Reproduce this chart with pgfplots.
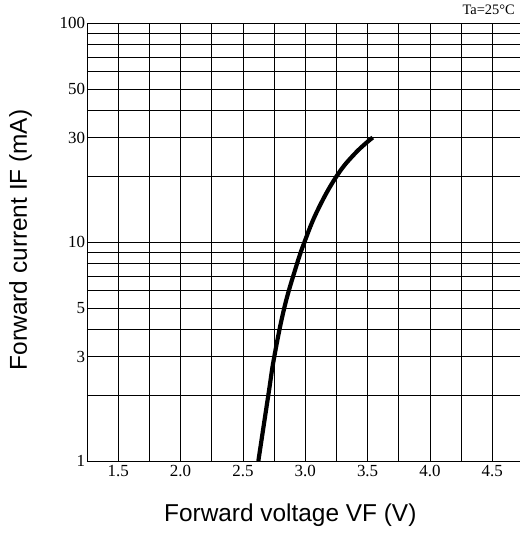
\documentclass[border=0pt]{standalone}
\usepackage{fontspec}
\setmainfont{Liberation Serif}
\newfontfamily\arial{Liberation Sans}
\usepackage{pgfplots}
\pgfplotsset{compat=1.18}
\begin{document}
\begin{tikzpicture}
\useasboundingbox (-87bp,-72bp) rectangle (433bp,461bp);
\begin{semilogyaxis}[
  at={(0,0)}, anchor=south west,
  scale only axis,
  width=433bp, height=438bp,
  xmin=1.25, xmax=4.722,
  ymin=1, ymax=100,
  axis x line*=bottom, axis y line*=left,
  axis line style={black, line width=0.7pt, -},
  xtick={1.5,2.0,2.5,3.0,3.5,4.0,4.5},
  xticklabels={1.5,2.0,2.5,3.0,3.5,4.0,4.5},
  minor xtick={1.75,2.25,2.75,3.25,3.75,4.25},
  ytick={1,3,5,10,30,50,100},
  yticklabels={1,3,5,10,30,50,100},
  minor ytick={2,4,6,7,8,9,20,40,60,70,80,90},
  grid=both,
  major grid style={black, line width=0.6pt},
  minor grid style={black, line width=0.6pt},
  major tick length=0pt, minor tick length=0pt,
  tick label style={font=\fontsize{17}{20}\selectfont},
  xticklabel style={yshift=-1.2bp},
  yticklabel style={xshift=1.5bp},
  xlabel={\arial\fontsize{24.5}{28}\selectfont Forward voltage VF (V)},
  ylabel={\arial\fontsize{24.5}{28}\selectfont Forward current IF (mA)},
  every axis x label/.style={at={(axis description cs:0.4695,-0.137)}, anchor=base},
  every axis y label/.style={at={(axis description cs:-0.1389,0.505)}, rotate=90, anchor=base},
  clip=false,
]
\addplot[black, line width=4.2pt, smooth, tension=0.7] coordinates {
  (2.624,1) (2.704,2) (2.752,3) (2.832,5) (2.92,7.5) (2.994,10)
  (3.10,14) (3.252,20) (3.40,25.4) (3.541,30)
};
\node[anchor=base east, font=\fontsize{14.5}{16}\selectfont, inner sep=0pt] at (rel axis cs:1,1) [xshift=-5bp, yshift=8bp] {Ta=25°C};
\end{semilogyaxis}
\end{tikzpicture}
\end{document}
